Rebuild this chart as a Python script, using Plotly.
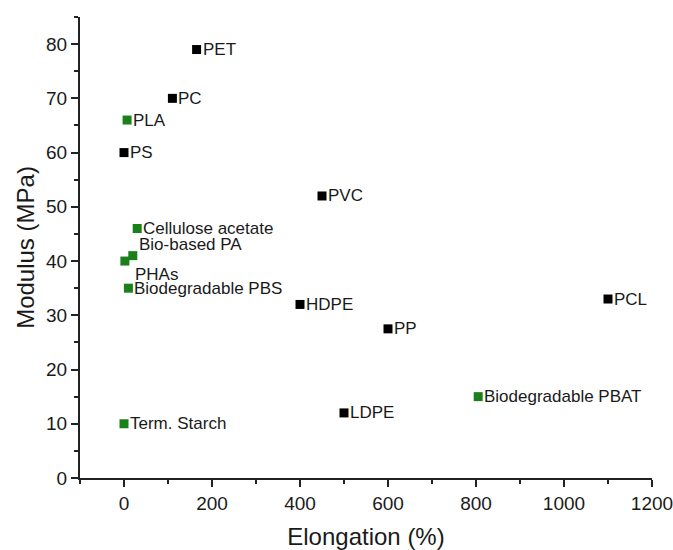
import plotly.graph_objects as go

# Conventional plastics (black)
conv_names = ["PET", "PC", "PS", "PVC", "HDPE", "PP", "PCL", "LDPE"]
conv_elong = [165, 110, 0, 450, 400, 600, 1100, 500]
conv_mod = [79, 70, 60, 52, 32, 27.5, 33, 12]

# Bio-based / biodegradable plastics (green)
bio_names = ["PLA", "Cellulose acetate", "Bio-based PA", "PHAs", "Biodegradable PBS",
             "Biodegradable PBAT", "Term. Starch"]
bio_elong = [7, 30, 20, 2, 10, 805, 0]
bio_mod = [66, 46, 41, 40, 35, 15, 10]

x_ticks = [0, 200, 400, 600, 800, 1000, 1200]
y_ticks = [0, 10, 20, 30, 40, 50, 60, 70, 80]

# label offsets in pixels (style only)
label_shift = {"Bio-based PA": (5, 11), "PHAs": (9, -13)}

font_family = "Liberation Sans, Arial, sans-serif"
text_color = "#1a1a1a"
axis_color = "#222222"

fig = go.Figure()
fig.add_trace(go.Scatter(
    x=conv_elong, y=conv_mod, mode="markers",
    marker=dict(symbol="square", size=9, color="#000000"),
    showlegend=False, cliponaxis=False,
))
fig.add_trace(go.Scatter(
    x=bio_elong, y=bio_mod, mode="markers",
    marker=dict(symbol="square", size=9, color="#1a801a"),
    showlegend=False, cliponaxis=False,
))

for names, xs, ys in [(conv_names, conv_elong, conv_mod), (bio_names, bio_elong, bio_mod)]:
    for n, xv, yv in zip(names, xs, ys):
        dx, dy = label_shift.get(n, (5, 0))
        fig.add_annotation(
            x=xv, y=yv, text=n, showarrow=False, xanchor="left", yanchor="middle",
            xshift=dx, yshift=dy, borderpad=0,
            font=dict(family=font_family, size=17, color=text_color),
        )

axis_common = dict(
    showline=True, linecolor=axis_color, linewidth=2, mirror=False, automargin=False,
    showgrid=False, zeroline=False, ticks="outside", ticklen=7, tickwidth=2,
    tickcolor=axis_color, tickfont=dict(family=font_family, size=19, color=text_color),
    ticklabeloverflow="allow",
)

fig.update_xaxes(
    range=[-100, 1200], tickvals=x_ticks,
    title=dict(text="Elongation (%)", font=dict(family=font_family, size=24, color=text_color), standoff=15),
    minor=dict(dtick=100, tick0=0, ticks="outside", ticklen=4, tickwidth=2, tickcolor=axis_color),
    **axis_common,
)
fig.update_yaxes(
    range=[0, 85], tickvals=y_ticks,
    title=dict(text="Modulus (MPa)", font=dict(family=font_family, size=24, color=text_color), standoff=5),
    minor=dict(dtick=5, tick0=0, ticks="outside", ticklen=4, tickwidth=2, tickcolor=axis_color),
    **axis_common,
)

fig.update_layout(
    width=673, height=550,
    margin=dict(l=80, r=21, t=17, b=72),
    paper_bgcolor="white", plot_bgcolor="white",
    font=dict(family=font_family),
)

# remove the default page margin so the figure fills the window exactly
fig.write_html(
    "out.html",
    config={"displayModeBar": False},
    post_script="document.body.style.margin='0';document.body.style.overflow='hidden';",
)
